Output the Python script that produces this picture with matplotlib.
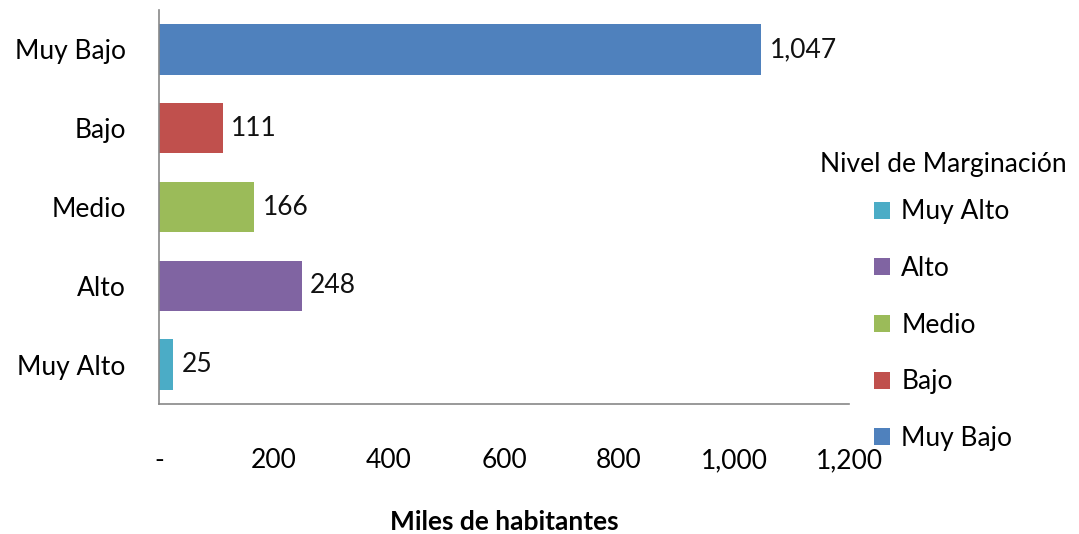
import matplotlib.pyplot as plt
from matplotlib.ticker import FuncFormatter

plt.rcParams['font.family'] = ['Lato', 'DejaVu Sans']

# miles de habitantes por nivel de marginación
niveles = ['Muy Alto', 'Alto', 'Medio', 'Bajo', 'Muy Bajo']
habitantes = [25, 248, 166, 111, 1047]
colores = ['#4bacc6', '#8064a2', '#9bbb59', '#c0504d', '#4f81bd']

fs = 19

fig = plt.figure(figsize=(10.79, 5.34), dpi=100)
ax = fig.add_axes([0.1474, 0.2434, 0.6395, 0.7378])

barras = []
for i, (n, v, c) in enumerate(zip(niveles, habitantes, colores)):
    b = ax.barh(i, v, height=0.64, color=c, label=n)
    barras.append(b)
    ax.bar_label(b, labels=['{:,}'.format(v)], padding=6, fontsize=fs, color='#111111')

ax.set_xlim(0, 1200)
ax.set_ylim(-0.5, 4.5)
ax.set_yticks(range(len(niveles)))
ax.set_yticklabels(niveles, fontsize=fs)
ax.set_xticks([0, 200, 400, 600, 800, 1000, 1200])
ax.xaxis.set_major_formatter(FuncFormatter(lambda x, p: '-' if x == 0 else '{:,.0f}'.format(x)))
ax.tick_params(axis='x', length=0, pad=32, labelsize=fs)
ax.tick_params(axis='y', length=0, pad=24)

for s in ['top', 'right']:
    ax.spines[s].set_visible(False)
for s in ['left', 'bottom']:
    ax.spines[s].set_color('#888888')
    ax.spines[s].set_linewidth(1.2)

ax.set_xlabel('Miles de habitantes', fontsize=fs, fontweight='bold', labelpad=26)

leg = fig.legend(handles=barras, labels=niveles, loc='center', bbox_to_anchor=(0.874, 0.435),
                 title='Nivel de Marginación', title_fontsize=fs, fontsize=fs,
                 frameon=False, handlelength=0.6, handleheight=0.6, handletextpad=0.45,
                 labelspacing=1.2)
leg._legend_box.sep = 16  # título más cerca de las entradas

fig.savefig('out.png', dpi=100)
